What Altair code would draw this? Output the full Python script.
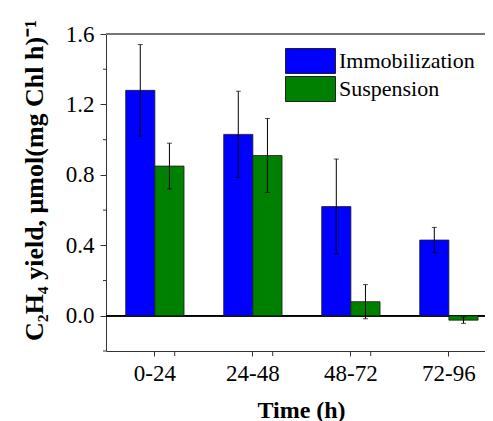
import altair as alt
import pandas as pd

times = ["0-24", "24-48", "48-72", "72-96"]
series = ["Immobilization", "Suspension"]
immob = [1.28, 1.03, 0.62, 0.43]
immob_err = [0.26, 0.245, 0.27, 0.072]
susp = [0.85, 0.91, 0.08, -0.025]
susp_err = [0.13, 0.21, 0.097, 0.018]
colors = ["#0000FF", "#008000"]
y_major = [0.0, 0.4, 0.8, 1.2, 1.6]
y_minor = [-0.2, 0.2, 0.6, 1.0, 1.4]

rows = []
for i, t in enumerate(times):
    rows.append({"Time": t, "Series": series[0], "value": immob[i],
                 "lo": immob[i] - immob_err[i], "hi": immob[i] + immob_err[i]})
    rows.append({"Time": t, "Series": series[1], "value": susp[i],
                 "lo": susp[i] - susp_err[i], "hi": susp[i] + susp_err[i]})
df = pd.DataFrame(rows)
edges = pd.DataFrame({"Time": times[:-1]})
minor = pd.DataFrame({"v": y_minor})

FONT = "Liberation Serif"
AX = "#333333"

xscale = alt.Scale(domain=times, paddingInner=0.405, paddingOuter=0.136, align=0.739)
yscale = alt.Scale(domain=[-0.2, 1.6], nice=False, zero=False)
xoff = alt.XOffset("Series:N", scale=alt.Scale(domain=series, paddingInner=0, paddingOuter=0))

xaxis = alt.Axis(title="Time (h)", labelAngle=0, labelFont=FONT, labelFontSize=23,
                 labelColor="black", labelPadding=6, tickSize=5, tickColor=AX,
                 domainColor=AX, titleFont=FONT, titleFontSize=24, titleFontWeight="bold",
                 titleColor="black", titleBaseline="alphabetic", titleY=66, titleX=195)
yaxis = alt.Axis(title="C₂H₄ yield, μmol(mg Chl h)⁻¹", values=y_major, grid=False,
                 format=".1f", tickSize=6,
                 labelFont=FONT, labelFontSize=23, labelColor="black", labelPadding=6,
                 tickColor=AX, domainColor=AX,
                 titleFont=FONT, titleFontSize=26, titleFontWeight="bold", titleColor="black",
                 titleBaseline="alphabetic", titleX=-64, titleY=146, titleAngle=-90)

base = alt.Chart(df)

bars = base.mark_bar(stroke="#1a1a1a", strokeWidth=0.8).encode(
    x=alt.X("Time:N", scale=xscale, axis=xaxis, sort=times),
    xOffset=xoff,
    y=alt.Y("value:Q", scale=yscale, axis=yaxis),
    color=alt.Color("Series:N", scale=alt.Scale(domain=series, range=colors),
                    legend=alt.Legend(orient="none", legendX=179, legendY=14, title=None,
                                      symbolType="M-1,-1H3V1H-1Z", symbolSize=625,
                                      symbolStrokeColor="#222222", symbolStrokeWidth=1,
                                      symbolOpacity=1,
                                      labelFont=FONT, labelFontSize=22, labelColor="black",
                                      labelOffset=28, rowPadding=-2, padding=0)),
)

err = base.mark_rule(color="black", strokeWidth=1).encode(
    x=alt.X("Time:N", sort=times), xOffset=xoff,
    y=alt.Y("lo:Q"), y2="hi:Q")
cap_lo = base.mark_tick(color="black", size=5, thickness=1).encode(
    x=alt.X("Time:N", sort=times), xOffset=xoff, y="lo:Q")
cap_hi = base.mark_tick(color="black", size=5, thickness=1).encode(
    x=alt.X("Time:N", sort=times), xOffset=xoff, y="hi:Q")

zero = alt.Chart(df).mark_rule(color="black", strokeWidth=1).encode(y=alt.datum(0))
top = alt.Chart(df).mark_rule(color="#777777", strokeWidth=1).encode(y=alt.datum(1.6))

edge_ticks = alt.Chart(edges).mark_rule(color=AX, strokeWidth=1).encode(
    x=alt.X("Time:N", sort=times), xOffset=alt.value(49),
    y=alt.value(317), y2=alt.value(322))

minor_ticks = alt.Chart(minor).mark_rule(color=AX, strokeWidth=1).encode(
    y=alt.Y("v:Q"), x=alt.value(-3), x2=alt.value(0))

chart = alt.layer(top, zero, bars, err, cap_lo, cap_hi, edge_ticks, minor_ticks).properties(
    width=379, height=317,
    padding={"left": 98, "top": 26, "right": 0, "bottom": 70},
    autosize=alt.AutoSizeParams(type="none"),
).configure_view(stroke=None).configure_legend(labelFont=FONT)

chart.save("out.html", embed_options={"renderer": "svg", "actions": False})
